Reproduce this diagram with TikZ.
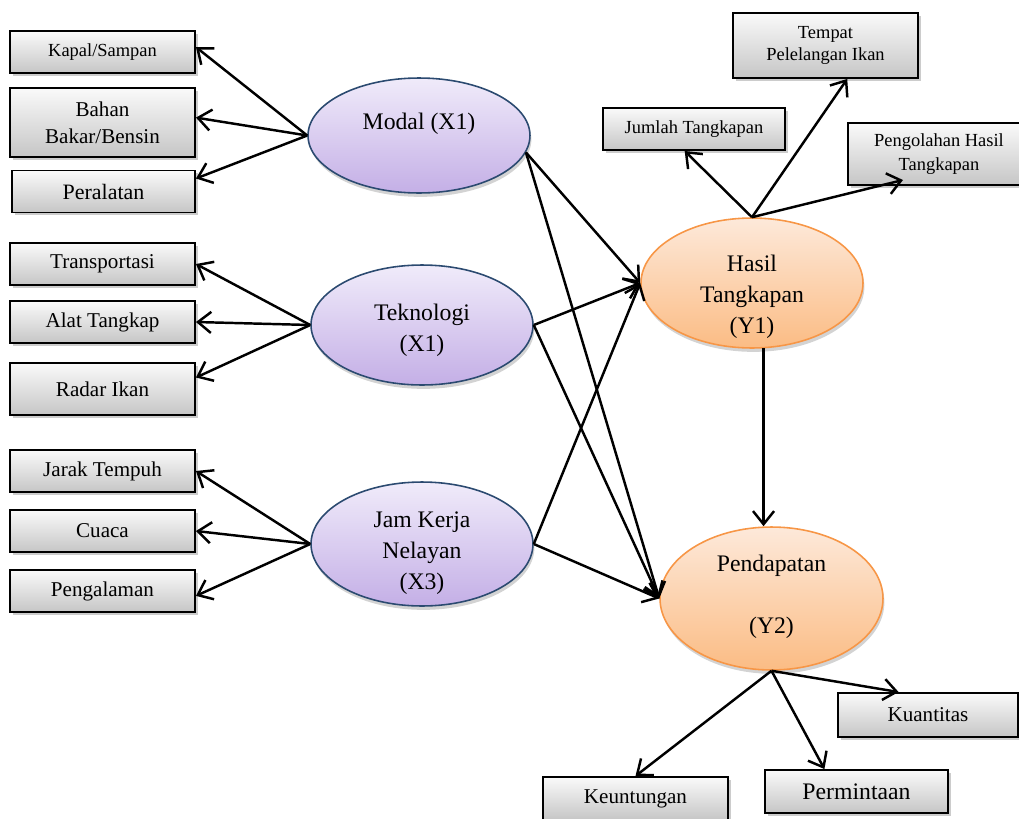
\documentclass[tikz,border=0pt]{standalone}
\usepackage{fontspec}
\setmainfont{Liberation Serif}
\usetikzlibrary{arrows.meta,shapes.geometric,shadows}
\definecolor{ungumuda}{HTML}{F0EBFA}
\definecolor{ungutua}{HTML}{C4AFE6}
\definecolor{garisungu}{HTML}{2B4A70}
\definecolor{oranyemuda}{HTML}{FDE9DA}
\definecolor{oranyetua}{HTML}{FBBC84}
\definecolor{garisoranye}{HTML}{F79646}

\begin{document}
\begin{tikzpicture}[x=0.02cm, y=-0.02cm,
  indikator/.style={draw, line width=1.1pt, top color=gray!4, bottom color=gray!45,
    drop shadow={shadow xshift=1.6pt, shadow yshift=-1.6pt, opacity=0.4},
    align=center, inner sep=1pt, minimum width=3.7cm, minimum height=0.84cm,
    font={\fontsize{12}{15.5}\selectfont}},
  kecil/.style={font={\fontsize{10.5}{13}\selectfont}},
  laten/.style={ellipse, draw=garisungu, line width=0.9pt, top color=ungumuda, bottom color=ungutua,
    drop shadow={shadow xshift=0.8pt, shadow yshift=-2.2pt, opacity=0.35},
    inner sep=0pt, minimum width=4.44cm},
  endogen/.style={laten, draw=garisoranye, top color=oranyemuda, bottom color=oranyetua},
  teks/.style={align=center, inner sep=0pt, font={\fontsize{13.5}{17.5}\selectfont}},
  panah/.style={line width=1.4pt, -{Straight Barb[length=7.5pt,width=12pt]}}]
  \useasboundingbox (0,0) rectangle (1019,819);

  % indikator variabel X
  \node[indikator, kecil] (kapal) at (102.5,52) {Kapal/Sampan};
  \node[indikator, minimum height=1.38cm] (bahan) at (102.5,122.5) {Bahan\\Bakar/Bensin};
  \node[indikator, minimum width=3.66cm, font={\fontsize{12.5}{15}\selectfont}] (peral) at (103.5,191.5) {Peralatan};
  \node[indikator] (trans) at (102.5,264) {Transportasi};
  \node[indikator] (alat) at (102.5,322) {Alat Tangkap};
  \node[indikator, minimum height=1.04cm] (radar) at (102.5,389) {Radar Ikan};
  \node[indikator] (jarak) at (102.5,471) {Jarak Tempuh};
  \node[indikator] (cuaca) at (102.5,531) {Cuaca};
  \node[indikator] (pengal) at (102.5,591) {Pengalaman};

  % indikator variabel Y
  \node[indikator, kecil, minimum height=1.3cm] (tempat) at (825.5,45.5) {Tempat\\Pelelangan Ikan};
  \node[indikator, kecil, minimum width=3.64cm] (jumlah) at (694,129) {Jumlah Tangkapan};
  \node[indikator, kecil, minimum width=3.64cm, minimum height=1.24cm] (olah) at (939,154) {Pengolahan Hasil\\[1pt]Tangkapan};
  \node[indikator, minimum width=3.6cm, minimum height=0.88cm] (kuan) at (928,715) {Kuantitas};
  \node[indikator, minimum width=3.66cm, minimum height=0.86cm, font={\fontsize{13.5}{16}\selectfont}] (perm) at (856.5,791.5) {Permintaan};
  \node[indikator, minimum height=0.86cm] (keun) at (635.5,798.5) {Keuntungan};

  % variabel laten
  \node[laten, minimum height=2.3cm] (modal) at (419,135.5) {};
  \node[laten, minimum height=2.4cm] (tekno) at (422,325) {};
  \node[laten, minimum height=2.48cm] (jam) at (422,544) {};
  \node[endogen, minimum height=2.6cm] (hasil) at (752,283) {};
  \node[endogen, minimum height=2.86cm, minimum width=4.46cm] (pend) at (771.5,598.5) {};

  \node[teks] (modaltxt) at (419,124) {Modal (X1)};
  \node[teks] (teknotxt) at (422,330) {Teknologi\\(X1)};
  \node[teks] (jamtxt) at (422,553) {Jam Kerja\\Nelayan\\(X3)};
  \node[teks] (hasiltxt) at (752,297) {Hasil\\Tangkapan\\(Y1)};
  \node[teks] (pendtxt) at (771.5,597) {Pendapatan\\[17.5pt](Y2)};

  \coordinate (olahtip) at (903,180);

  % panah ke indikator X
  \draw[panah] (modal.west) -- (kapal.3);
  \draw[panah] (modal.west) -- (bahan.3);
  \draw[panah] (modal.west) -- (peral.8);
  \draw[panah] (tekno.west) -- (trans.east);
  \draw[panah] (tekno.west) -- (alat.east);
  \draw[panah] (tekno.west) -- (radar.7);
  \draw[panah] (jam.west) -- (jarak.east);
  \draw[panah] (jam.west) -- (cuaca.east);
  \draw[panah] (jam.west) -- (pengal.-3);

  % jalur X ke Y
  \draw[panah] (modal.-9) -- (hasil.west);
  \draw[panah] (modal.-9) -- (pend.west);
  \draw[panah] (tekno.east) -- (hasil.west);
  \draw[panah] (tekno.east) -- (pend.west);
  \draw[panah] (jam.east) -- (hasil.west);
  \draw[panah] (jam.east) -- (pend.west);
  \draw[panah] (hasil.-80) -- (hasil.-80 |- pend.north);

  % panah ke indikator Y
  \draw[panah] (hasil.north) -- (jumlah.-113);
  \draw[panah] (hasil.north) -- (tempat.-57);
  \draw[panah] (hasil.north) -- (olahtip);
  \draw[panah] (pend.south) -- (keun.north);
  \draw[panah] (pend.south) -- (perm.145);
  \draw[panah] (pend.south) -- (kuan.142);
\end{tikzpicture}
\end{document}
